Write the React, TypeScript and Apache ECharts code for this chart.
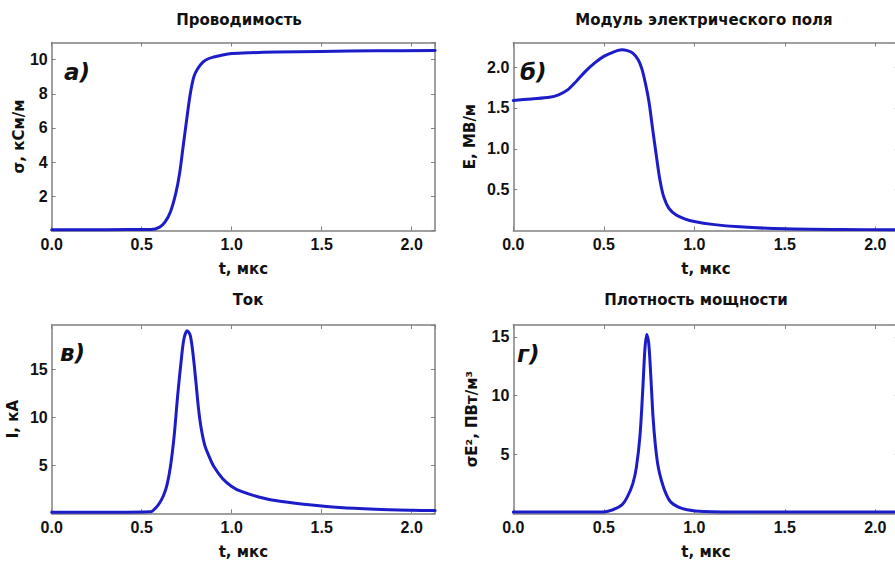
import React, { useEffect, useRef } from "react";
import * as echarts from "echarts";

// ---- Data ----
const tSigma = [0, 0.3, 0.55, 0.6, 0.63, 0.66, 0.69, 0.71, 0.73, 0.75, 0.77, 0.79, 0.81, 0.84, 0.87, 0.9, 0.95, 1.0, 1.1, 1.25, 1.5, 1.8, 2.13];
const sigmaValues = [0.05, 0.05, 0.06, 0.2, 0.5, 1.1, 2.2, 3.3, 4.9, 6.5, 8.0, 9.0, 9.45, 9.85, 10.05, 10.15, 10.27, 10.35, 10.4, 10.44, 10.48, 10.51, 10.53];

const tField = [0, 0.1, 0.2, 0.25, 0.3, 0.35, 0.4, 0.45, 0.5, 0.55, 0.6, 0.63, 0.66, 0.69, 0.71, 0.73, 0.75, 0.77, 0.79, 0.81, 0.83, 0.86, 0.9, 0.95, 1.0, 1.1, 1.25, 1.5, 1.8, 2.13];
const fieldValues = [1.59, 1.61, 1.63, 1.66, 1.72, 1.83, 1.95, 2.05, 2.13, 2.18, 2.21, 2.2, 2.17, 2.09, 1.98, 1.8, 1.57, 1.24, 0.92, 0.62, 0.42, 0.27, 0.19, 0.14, 0.11, 0.075, 0.045, 0.02, 0.012, 0.01];

const tCurrent = [0, 0.3, 0.55, 0.58, 0.6, 0.62, 0.64, 0.66, 0.68, 0.7, 0.72, 0.735, 0.753, 0.77, 0.785, 0.8, 0.815, 0.83, 0.85, 0.875, 0.9, 0.95, 1.0, 1.05, 1.15, 1.25, 1.4, 1.6, 1.8, 2.0, 2.13];
const currentValues = [0.1, 0.1, 0.15, 0.6, 1.1, 1.8, 2.9, 4.9, 8.0, 12.3, 16.0, 18.2, 19.0, 18.5, 16.6, 13.9, 11.0, 8.9, 7.1, 5.9, 4.9, 3.6, 2.8, 2.3, 1.7, 1.3, 0.95, 0.6, 0.42, 0.32, 0.28];

const tPower = [0, 0.3, 0.5, 0.55, 0.6, 0.63, 0.66, 0.68, 0.7, 0.715, 0.727, 0.737, 0.748, 0.76, 0.772, 0.785, 0.8, 0.82, 0.845, 0.87, 0.91, 0.96, 1.05, 1.3, 1.7, 2.13];
const powerValues = [0.1, 0.1, 0.12, 0.3, 0.72, 1.4, 2.5, 3.9, 6.6, 10.4, 13.9, 15.2, 14.5, 11.6, 8.2, 5.8, 4.0, 2.7, 1.6, 0.95, 0.55, 0.3, 0.15, 0.1, 0.1, 0.1];

const panelTitles = ["Проводимость", "Модуль электрического поля", "Ток", "Плотность мощности"];
const panelLetters = ["а)", "б)", "в)", "г)"];
const yNames = ["σ, кСм/м", "E, МВ/м", "I, кА", "σE², ПВт/м³"];
const xName = "t, мкс";
const xMax = 2.13;
const xInterval = 0.5;
const yMaxes = [11, 2.3, 19.6, 16];
const yIntervals = [2, 0.5, 5, 5];
const yDecimals = [0, 1, 0, 0];

const LINE_COLOR = "#1c1cc8";
const AXIS_COLOR = "#808080";
const TEXT_COLOR = "#111111";

export default function App() {
  const ref = useRef<HTMLDivElement>(null);

  useEffect(() => {
    if (!ref.current) return;
    const chart = echarts.init(ref.current, undefined, { renderer: "svg" });

    const grids = [
      { left: 51.7, top: 42.5, width: 383.4, height: 188 },
      { left: 513.3, top: 42.5, width: 385.5, height: 188 },
      { left: 51.7, top: 325, width: 383.4, height: 188.3 },
      { left: 513.3, top: 325, width: 385.5, height: 188.3 },
    ];
    const yNameGaps = [25, 36, 31, 34];

    const seriesData = [
      tSigma.map((t, i) => [t, sigmaValues[i]]),
      tField.map((t, i) => [t, fieldValues[i]]),
      tCurrent.map((t, i) => [t, currentValues[i]]),
      tPower.map((t, i) => [t, powerValues[i]]),
    ];

    const axisLine = { show: true, onZero: false, lineStyle: { color: AXIS_COLOR, width: 1.5 } };
    const axisTick = { show: true, inside: true, length: 4, lineStyle: { color: AXIS_COLOR, width: 1 } };
    const labelFont = { fontSize: 16, fontWeight: "bold" as const, fontFamily: "Liberation Sans, Arial, sans-serif", color: TEXT_COLOR };
    const nameFont = { fontSize: 15, fontWeight: "bold" as const, fontFamily: "DejaVu Sans, Verdana, sans-serif", color: TEXT_COLOR };

    const xAxes: any[] = [];
    const yAxes: any[] = [];
    for (let i = 0; i < 4; i++) {
      xAxes.push({
        type: "value", gridIndex: i, position: "bottom", min: 0, max: xMax, interval: xInterval,
        axisLine, axisTick, splitLine: { show: false },
        axisLabel: { ...labelFont, margin: 6, showMaxLabel: false, formatter: (v: number) => v.toFixed(1) },
        name: xName, nameLocation: "middle", nameGap: 31, nameTextStyle: nameFont,
      });
      xAxes.push({
        type: "value", gridIndex: i, position: "top", min: 0, max: xMax, interval: xInterval,
        axisLine, axisTick, splitLine: { show: false }, axisLabel: { show: false },
      });
      yAxes.push({
        type: "value", gridIndex: i, position: "left", min: 0, max: yMaxes[i], interval: yIntervals[i],
        axisLine, axisTick, splitLine: { show: false },
        axisLabel: { ...labelFont, margin: 4, showMinLabel: false, showMaxLabel: false, formatter: (v: number) => v.toFixed(yDecimals[i]) },
        name: yNames[i], nameLocation: "middle", nameGap: yNameGaps[i], nameTextStyle: nameFont,
      });
      yAxes.push({
        type: "value", gridIndex: i, position: "right", min: 0, max: yMaxes[i], interval: yIntervals[i],
        axisLine, axisTick, splitLine: { show: false }, axisLabel: { show: false },
      });
    }

    const series = seriesData.map((data, i) => ({
      type: "line",
      xAxisIndex: 2 * i,
      yAxisIndex: 2 * i,
      data,
      showSymbol: false,
      smooth: 0.3,
      lineStyle: { color: LINE_COLOR, width: 3, join: "round", cap: "round" },
      itemStyle: { color: LINE_COLOR },
      clip: true,
    }));

    const titlePos = [[239, 20], [704, 20], [248, 300], [696, 300]];
    const letterPos = [[64, 72], [520, 72], [60, 353], [517, 354]];
    const graphics: any[] = [];
    for (let i = 0; i < 4; i++) {
      graphics.push({
        type: "text", x: titlePos[i][0], y: titlePos[i][1],
        style: { text: panelTitles[i], align: "center", verticalAlign: "middle", fontSize: 15, fontWeight: "bold", fontFamily: "DejaVu Sans, Verdana, sans-serif", fill: TEXT_COLOR },
      });
      graphics.push({
        type: "text", x: letterPos[i][0], y: letterPos[i][1],
        style: { text: panelLetters[i], align: "left", verticalAlign: "middle", fontSize: 23, fontWeight: "bold", fontStyle: "italic", fontFamily: "DejaVu Sans, Verdana, sans-serif", fill: TEXT_COLOR },
      });
    }

    chart.setOption({
      animation: false,
      backgroundColor: "#ffffff",
      grid: grids,
      xAxis: xAxes,
      yAxis: yAxes,
      series,
      graphic: graphics,
    });

    return () => chart.dispose();
  }, []);

  return (
    <div style={{ position: "fixed", left: 0, top: 0, width: 895, height: 562, overflow: "hidden", background: "#fff" }}>
      <div ref={ref} style={{ width: 900, height: 562 }} />
    </div>
  );
}
